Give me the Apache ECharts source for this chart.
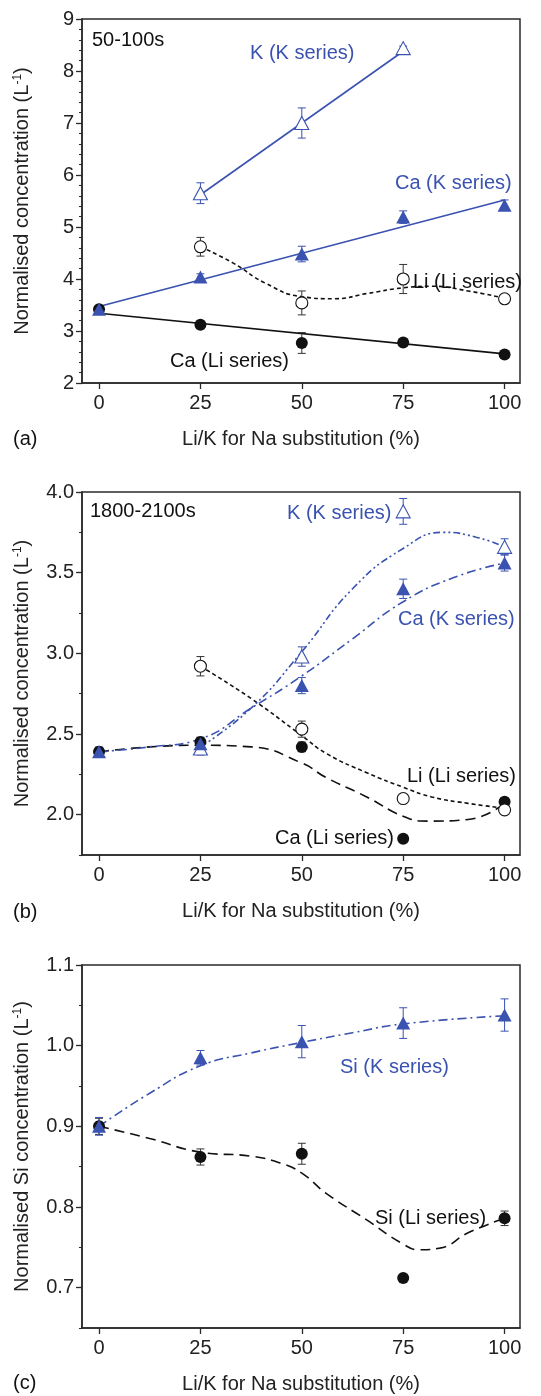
<!DOCTYPE html>
<html>
<head>
<meta charset="utf-8">
<script src="https://cdn.jsdelivr.net/npm/echarts@6/dist/echarts.min.js"></script>
<style>
html,body{margin:0;padding:0;background:#fff;}
#chart{width:541px;height:1396px;}
</style>
</head>
<body>
<div id="chart"></div>
<script>
// ---------- data ----------
const xTicks = [0, 25, 50, 75, 100];
const pctAll = [0, 25, 50, 75, 100];
const pctNoZero = [25, 50, 75, 100];
const pctA_K = [25, 50, 75];

// (a) 50-100s
const aK_K = [5.65, 7.00, 8.44];
const aK_K_err = [0.20, 0.29, 0.04];
const aCa_K = [3.42, 4.04, 4.48, 5.19, 5.42];
const aCa_K_err = [0.05, 0.06, 0.15, 0.12, 0.10];
const aLi_Li = [4.62, 3.54, 4.00, 3.62];
const aLi_Li_err = [0.18, 0.23, 0.28, 0.04];
const aCa_Li = [3.42, 3.12, 2.77, 2.78, 2.55];
const aCa_Li_err = [0.03, 0.04, 0.20, 0.05, 0.04];
const aK_K_fit = [[25, 5.62], [75, 8.38]];
const aCa_K_fit = [[0, 3.47], [100, 5.52]];
const aCa_Li_fit = [[0, 3.34], [100, 2.56]];
const aLi_Li_curve = [[25, 4.62], [33, 4.31], [41, 3.92], [50, 3.66], [58, 3.62], [66, 3.72], [75, 3.83], [82, 3.86], [91, 3.77], [100, 3.63]];

// (b) 1800-2100s
const bK_K = [2.41, 2.98, 3.88, 3.66];
const bK_K_err = [0.04, 0.06, 0.08, 0.05];
const bCa_K = [2.39, 2.44, 2.80, 3.40, 3.56];
const bCa_K_err = [0.03, 0.03, 0.05, 0.06, 0.05];
const bLi_Li = [2.92, 2.53, 2.10, 2.03];
const bLi_Li_err = [0.06, 0.05, 0.01, 0.02];
const bCa_Li = [2.39, 2.45, 2.42, 1.85, 2.08];
const bCa_Li_err = [0.02, 0.03, 0.03, 0.01, 0.02];
const bK_K_curve = [[25, 2.42], [37.5, 2.66], [50, 3.01], [62.5, 3.40], [75, 3.65], [85, 3.75], [93, 3.72], [100, 3.66]];
const bCa_K_curve = [[0, 2.39], [12.5, 2.42], [25, 2.47], [37.5, 2.66], [50, 2.86], [62.5, 3.09], [75, 3.32], [87.5, 3.47], [100, 3.56]];
const bCa_Li_curve = [[0, 2.39], [12.5, 2.42], [25, 2.43], [37.5, 2.42], [50, 2.32], [56, 2.23], [66, 2.11], [75, 1.99], [81, 1.96], [91, 1.97], [100, 2.07]];
const bLi_Li_curve = [[25, 2.92], [37.5, 2.72], [50, 2.49], [56, 2.38], [66, 2.26], [75, 2.17], [82, 2.11], [91, 2.07], [100, 2.04]];

// (c) Si
const cSi_K = [0.900, 0.985, 1.005, 1.028, 1.038];
const cSi_K_err = [0.011, 0.009, 0.020, 0.019, 0.020];
const cSi_Li = [0.900, 0.862, 0.866, 0.712, 0.786];
const cSi_Li_err = [0.010, 0.010, 0.013, 0.003, 0.009];
const cSi_K_curve = [[0, 0.900], [12.5, 0.941], [25, 0.975], [37.5, 0.991], [50, 1.004], [62.5, 1.016], [75, 1.027], [100, 1.037]];
const cSi_Li_curve = [[0, 0.900], [12.5, 0.885], [25, 0.868], [37.5, 0.863], [45, 0.854], [50, 0.842], [56, 0.817], [66, 0.784], [75, 0.754], [79, 0.747], [84, 0.749], [91, 0.768], [100, 0.786]];

// ---------- styling ----------
const BLUE = '#3a52b0';
const BLACK = '#111';
const AXC = '#2a2a2a';
const FONT = 'Liberation Sans, Arial, sans-serif';

function pairs(xs, ys) { return xs.map((x, i) => [x, ys[i]]); }
function errs(xs, ys, es) { return xs.map((x, i) => [x, ys[i] - es[i], ys[i] + es[i]]); }
function yIdx(g) { return g === 0 ? 0 : (g === 1 ? 1 : 3); }

function errSeries(g, data, color) {
  return {
    type: 'custom', xAxisIndex: g, yAxisIndex: yIdx(g),
    z: 3, silent: true,
    encode: { x: 0, y: [1, 2] },
    data: data,
    renderItem: function (params, api) {
      const x = api.value(0);
      const lo = api.coord([x, api.value(1)]);
      const hi = api.coord([x, api.value(2)]);
      const w = 4;
      const st = { stroke: color, lineWidth: 1 };
      return {
        type: 'group', children: [
          { type: 'line', shape: { x1: lo[0], y1: lo[1], x2: hi[0], y2: hi[1] }, style: st },
          { type: 'line', shape: { x1: lo[0] - w, y1: lo[1], x2: lo[0] + w, y2: lo[1] }, style: st },
          { type: 'line', shape: { x1: hi[0] - w, y1: hi[1], x2: hi[0] + w, y2: hi[1] }, style: st }
        ]
      };
    }
  };
}

function lineSeries(g, data, color, type, smooth) {
  return {
    type: 'line', xAxisIndex: g, yAxisIndex: yIdx(g), data: data,
    smooth: smooth ? 0.5 : false, showSymbol: false, symbol: 'none', silent: true, z: 2,
    lineStyle: { color: color, width: 1.6, type: type }
  };
}

function markSeries(g, data, kind, color) {
  const open = kind === 'openTri' || kind === 'openCircle';
  const tri = kind === 'openTri' || kind === 'tri';
  return {
    type: 'scatter', xAxisIndex: g, yAxisIndex: yIdx(g), data: data, z: 5, silent: true,
    symbol: tri ? 'triangle' : 'circle',
    symbolSize: tri ? [14, 13] : 12,
    itemStyle: open
      ? { color: '#fff', borderColor: color, borderWidth: 1.1, opacity: 1 }
      : { color: color, borderWidth: 0, opacity: 1 }
  };
}

const grids = [
  { left: 82, top: 19, width: 438, height: 364 },
  { left: 82, top: 492, width: 438, height: 363 },
  { left: 82, top: 965, width: 438, height: 363 }
];

function xAxis(g) {
  return {
    type: 'value', gridIndex: g, min: -4.2, max: 103.8,
    axisLine: { show: true, onZero: false, lineStyle: { color: AXC, width: 1.5 } },
    axisTick: { show: true, inside: false, length: 6, customValues: xTicks, lineStyle: { color: AXC, width: 1.3 } },
    axisLabel: { customValues: xTicks, fontSize: 20, color: '#222', margin: 10, fontFamily: FONT },
    splitLine: { show: false },
    name: 'Li/K for Na substitution (%)', nameLocation: 'middle', nameGap: 46,
    nameTextStyle: { fontSize: 20, color: '#222', fontFamily: FONT }
  };
}

const yRich = { sup: { fontSize: 12, verticalAlign: 'top', lineHeight: 14, color: '#222', fontFamily: FONT } };

function yMain(g, min, max, opts, name) {
  return Object.assign({
    type: 'value', gridIndex: g, min: min, max: max, position: 'left', offset: 0,
    axisLine: { show: true, onZero: false, lineStyle: { color: AXC, width: 1.5 } },
    splitLine: { show: false },
    name: name, nameLocation: 'middle', nameGap: 50, nameRotate: 90,
    nameTextStyle: { fontSize: 20, color: '#222', fontFamily: FONT, rich: yRich }
  }, opts);
}

function yMinor(g, min, max, step) {
  return {
    type: 'value', gridIndex: g, min: min, max: max, interval: step, position: 'left', offset: 0,
    axisLine: { show: false, onZero: false }, axisLabel: { show: false }, splitLine: { show: false },
    axisTick: { show: true, length: 3, lineStyle: { color: AXC, width: 1.1 } }
  };
}

const yTicksB = [2.0, 2.5, 3.0, 3.5, 4.0];
const yTicksC = [0.7, 0.8, 0.9, 1.0, 1.1];

const option = {
  animation: false,
  backgroundColor: '#fff',
  textStyle: { fontFamily: FONT },
  grid: grids.map(g => Object.assign({ show: true, borderColor: AXC, borderWidth: 1.5, containLabel: false }, g)),
  xAxis: [xAxis(0), xAxis(1), xAxis(2)],
  yAxis: [
    yMain(0, 2, 9, {
      interval: 1,
      axisTick: { show: true, length: 6, lineStyle: { color: AXC, width: 1.3 } },
      minorTick: { show: true, splitNumber: 5, length: 3, lineStyle: { color: AXC, width: 1.1 } },
      axisLabel: { fontSize: 20, color: '#222', margin: 8, fontFamily: FONT }
    }, 'Normalised concentration (L{sup|-1})'),
    yMain(1, 1.75, 4, {
      axisTick: { show: true, length: 6, customValues: yTicksB, lineStyle: { color: AXC, width: 1.3 } },
      axisLabel: { customValues: yTicksB, fontSize: 20, color: '#222', margin: 8, fontFamily: FONT, formatter: v => v.toFixed(1) }
    }, 'Normalised concentration (L{sup|-1})'),
    yMinor(1, 1.75, 4, 0.25),
    yMain(2, 0.65, 1.1, {
      axisTick: { show: true, length: 6, customValues: yTicksC, lineStyle: { color: AXC, width: 1.3 } },
      axisLabel: { customValues: yTicksC, fontSize: 20, color: '#222', margin: 8, fontFamily: FONT, formatter: v => v.toFixed(1) }
    }, 'Normalised Si concentration (L{sup|-1})'),
    yMinor(2, 0.65, 1.1, 0.05)
  ],
  series: [
    // (a)
    lineSeries(0, aCa_Li_fit, BLACK, 'solid', false),
    lineSeries(0, aCa_K_fit, BLUE, 'solid', false),
    lineSeries(0, aK_K_fit, BLUE, 'solid', false),
    lineSeries(0, aLi_Li_curve, BLACK, [4, 3], true),
    errSeries(0, errs(pctAll, aCa_Li, aCa_Li_err), '#333'),
    errSeries(0, errs(pctNoZero, aLi_Li, aLi_Li_err), '#333'),
    errSeries(0, errs(pctAll, aCa_K, aCa_K_err), BLUE),
    errSeries(0, errs(pctA_K, aK_K, aK_K_err), BLUE),
    markSeries(0, pairs(pctAll, aCa_Li), 'circle', BLACK),
    markSeries(0, pairs(pctNoZero, aLi_Li), 'openCircle', BLACK),
    markSeries(0, pairs(pctAll, aCa_K), 'tri', BLUE),
    markSeries(0, pairs(pctA_K, aK_K), 'openTri', BLUE),
    // (b)
    lineSeries(1, bCa_Li_curve, BLACK, [10, 6], true),
    lineSeries(1, bLi_Li_curve, BLACK, [4, 3], true),
    lineSeries(1, bCa_K_curve, BLUE, [9, 4, 2, 4], true),
    lineSeries(1, bK_K_curve, BLUE, [7, 3, 2, 3, 2, 3], true),
    errSeries(1, errs(pctAll, bCa_Li, bCa_Li_err), '#333'),
    errSeries(1, errs(pctNoZero, bLi_Li, bLi_Li_err), '#333'),
    errSeries(1, errs(pctNoZero, bK_K, bK_K_err), BLUE),
    errSeries(1, errs(pctAll, bCa_K, bCa_K_err), BLUE),
    markSeries(1, pairs(pctAll, bCa_Li), 'circle', BLACK),
    markSeries(1, pairs(pctNoZero, bLi_Li), 'openCircle', BLACK),
    markSeries(1, pairs(pctNoZero, bK_K), 'openTri', BLUE),
    markSeries(1, pairs(pctAll, bCa_K), 'tri', BLUE),
    // (c)
    lineSeries(2, cSi_Li_curve, BLACK, [10, 6], true),
    lineSeries(2, cSi_K_curve, BLUE, [9, 4, 2, 4], true),
    errSeries(2, errs(pctAll, cSi_Li, cSi_Li_err), '#333'),
    errSeries(2, errs(pctAll, cSi_K, cSi_K_err), BLUE),
    markSeries(2, pairs(pctAll, cSi_Li), 'circle', BLACK),
    markSeries(2, pairs(pctAll, cSi_K), 'tri', BLUE)
  ],
  graphic: [
    ['50-100s', 92, 40, '#111'],
    ['K (K series)', 250, 53, BLUE],
    ['Ca (K series)', 395, 183, BLUE],
    ['Li (Li series)', 413, 282, '#111'],
    ['Ca (Li series)', 170, 361, '#111'],
    ['(a)', 13, 439, '#111'],
    ['1800-2100s', 90, 511, '#111'],
    ['K (K series)', 287, 513, BLUE],
    ['Ca (K series)', 398, 619, BLUE],
    ['Li (Li series)', 407, 776, '#111'],
    ['Ca (Li series)', 275, 838, '#111'],
    ['(b)', 13, 912, '#111'],
    ['Si (K series)', 340, 1067, BLUE],
    ['Si (Li series)', 375, 1218, '#111'],
    ['(c)', 13, 1383, '#111']
  ].map(t => ({
    type: 'text', x: t[1], y: t[2], z: 10, silent: true,
    style: { text: t[0], fill: t[3], font: '20px ' + FONT, textAlign: 'left', textVerticalAlign: 'middle' }
  }))
};

const chart = echarts.init(document.getElementById('chart'), null, { renderer: 'canvas' });
chart.setOption(option);
</script>
</body>
</html>
